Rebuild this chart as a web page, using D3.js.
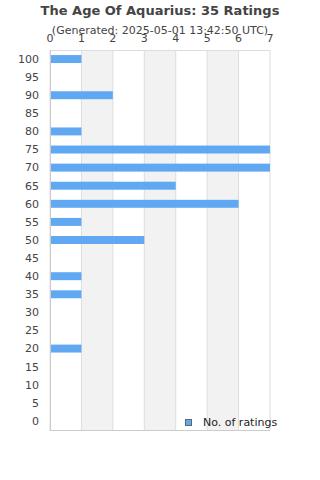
<!DOCTYPE html>
<html>
<head>
<meta charset="utf-8">
<script src="https://cdn.jsdelivr.net/npm/d3@7"></script>
<style>
  body { margin: 0; background: #fff; }
  svg { font-family: "DejaVu Sans", sans-serif; }
</style>
</head>
<body>
<svg id="chart" width="320" height="480"></svg>
<script>
const ratings = [100, 95, 90, 85, 80, 75, 70, 65, 60, 55, 50, 45, 40, 35, 30, 25, 20, 15, 10, 5, 0],
    counts = [1, 0, 2, 0, 1, 7, 7, 4, 6, 1, 3, 0, 1, 1, 0, 0, 1, 0, 0, 0, 0],
    xTicks = [0, 1, 2, 3, 4, 5, 6, 7];

const margin = { top: 50, left: 50, right: 50, bottom: 50 },
    width = 320, height = 480,
    plotW = 220, plotH = 380;

const svg = d3.select('svg#chart');

const x = d3.scaleLinear().domain([0, 7]).range([margin.left, margin.left + plotW]);
const y = d3.scaleBand().domain(ratings).range([margin.top, margin.top + plotH]).paddingInner(0.56).paddingOuter(0.28);

// alternating bands
svg.append('g').selectAll('rect')
    .data(xTicks.slice(0, -1).filter(d => d % 2 === 1))
    .join('rect')
    .attr('x', d => x(d))
    .attr('y', margin.top)
    .attr('width', d => x(d + 1) - x(d))
    .attr('height', plotH)
    .attr('fill', '#f2f2f2');

// grid lines
svg.append('g').selectAll('line')
    .data(xTicks)
    .join('line')
    .attr('x1', d => x(d)).attr('x2', d => x(d))
    .attr('y1', margin.top).attr('y2', margin.top + plotH)
    .attr('stroke', '#dddddd');

// frame
svg.append('line')
    .attr('x1', x(0)).attr('x2', x(7))
    .attr('y1', margin.top + 0.5).attr('y2', margin.top + 0.5)
    .attr('stroke', '#dddddd');
svg.append('line')
    .attr('x1', x(0) - 0.5).attr('x2', x(7))
    .attr('y1', margin.top + plotH + 0.5).attr('y2', margin.top + plotH + 0.5)
    .attr('stroke', '#cccccc');
svg.append('line')
    .attr('x1', x(0) + 0.5).attr('x2', x(0) + 0.5)
    .attr('y1', margin.top).attr('y2', margin.top + plotH)
    .attr('stroke', '#cccccc');

// bars
svg.append('g').selectAll('rect')
    .data(ratings.map((r, i) => ({ r, c: counts[i] })).filter(d => d.c > 0))
    .join('rect')
    .attr('x', x(0) + 1)
    .attr('y', d => y(d.r))
    .attr('width', d => x(d.c) - x(0) - 1)
    .attr('height', y.bandwidth())
    .attr('fill', '#60a8f2');

// x axis (top)
svg.append('g').selectAll('text')
    .data(xTicks)
    .join('text')
    .attr('x', d => x(d))
    .attr('y', 42)
    .attr('text-anchor', 'middle')
    .attr('font-size', 11)
    .attr('fill', '#444')
    .text(d => d);

// y axis labels
svg.append('g').selectAll('text')
    .data(ratings)
    .join('text')
    .attr('x', 39)
    .attr('y', d => y(d) + y.bandwidth() / 2)
    .attr('dy', '0.35em')
    .attr('text-anchor', 'end')
    .attr('font-size', 11)
    .attr('fill', '#444')
    .text(d => d);

// titles
svg.append('text')
    .attr('x', 160).attr('y', 15)
    .attr('text-anchor', 'middle')
    .attr('font-size', 13)
    .attr('font-weight', 'bold')
    .attr('fill', '#444')
    .text('The Age Of Aquarius: 35 Ratings');
svg.append('text')
    .attr('x', 160).attr('y', 34)
    .attr('text-anchor', 'middle')
    .attr('font-size', 11)
    .attr('fill', '#444')
    .text('(Generated: 2025-05-01 13:42:50 UTC)');

// legend
svg.append('rect')
    .attr('x', 185.5).attr('y', 419.5)
    .attr('width', 6).attr('height', 6)
    .attr('fill', '#60a8f2')
    .attr('stroke', '#666');
svg.append('text')
    .attr('x', 203).attr('y', 426)
    .attr('font-size', 11)
    .attr('fill', '#222')
    .text('No. of ratings');
</script>
</body>
</html>
